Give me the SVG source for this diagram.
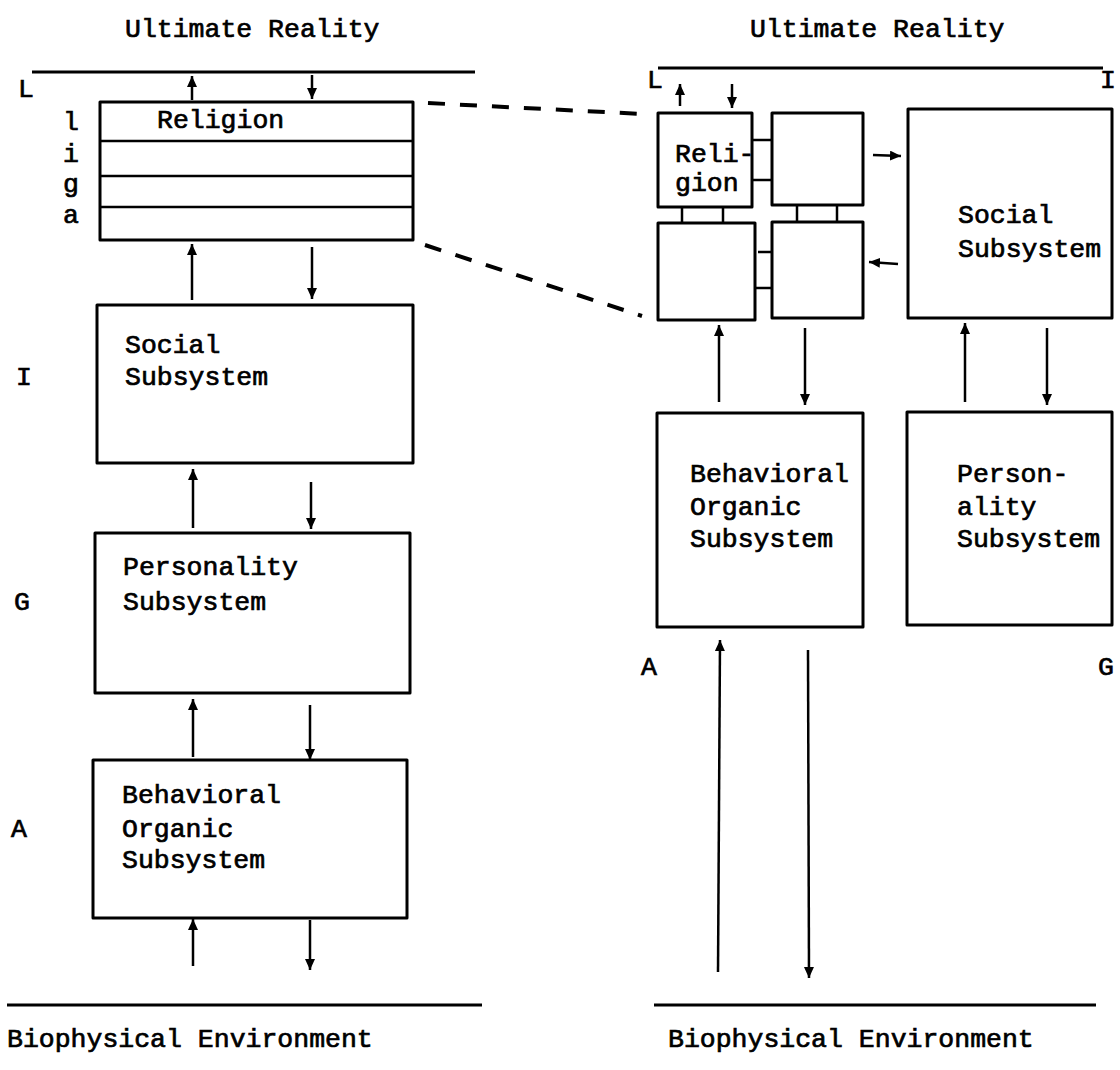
<svg xmlns="http://www.w3.org/2000/svg" width="1120" height="1070" viewBox="0 0 1120 1070">
  <style>
    .t { font-family: "Liberation Mono", "Courier New", monospace; font-size: 26.5px; fill: #000; stroke: #000; stroke-width: 0.7px; }
    .box { fill: none; stroke: #000; stroke-width: 3; stroke-linejoin: round; }
    .rule { fill: none; stroke: #000; stroke-width: 3; }
    .ln { fill: none; stroke: #000; stroke-width: 2.5; }
    .arr { fill: none; stroke: #000; stroke-width: 2.5; marker-end: url(#head); }
    .dash { fill: none; stroke: #000; stroke-width: 4; stroke-dasharray: 17 15; }
  </style>
  <defs>
    <marker id="head" markerUnits="userSpaceOnUse" markerWidth="12" markerHeight="11" refX="11" refY="5" orient="auto">
      <path d="M0,0 L11,5 L0,10 z" fill="#000"/>
    </marker>
  </defs>
  <rect width="1120" height="1070" fill="#fff"/>

  <!-- headings and boundary rules -->
  <g id="left-top">
    <text class="t" x="125" y="37">Ultimate Reality</text>
    <line class="rule" x1="32" y1="72" x2="475" y2="72"/>
  </g>
  <g id="left-bottom">
    <line class="rule" x1="7" y1="1005" x2="482" y2="1005"/>
    <text class="t" x="7" y="1047">Biophysical Environment</text>
  </g>
  <g id="right-top">
    <text class="t" x="750" y="37">Ultimate Reality</text>
    <line class="rule" x1="658" y1="68" x2="1103" y2="68"/>
  </g>
  <g id="right-bottom">
    <line class="rule" x1="654" y1="1005" x2="1096" y2="1005"/>
    <text class="t" x="668" y="1047">Biophysical Environment</text>
  </g>

  <!-- function letters, left column -->
  <g id="left-letters">
    <text class="t" x="18" y="97">L</text>
    <text class="t" x="63" y="130">l</text>
    <text class="t" x="63" y="162">i</text>
    <text class="t" x="63" y="192">g</text>
    <text class="t" x="63" y="223">a</text>
    <text class="t" x="16" y="385">I</text>
    <text class="t" x="14" y="610">G</text>
    <text class="t" x="11" y="837">A</text>
  </g>

  <!-- function letters, right column -->
  <g id="right-letters">
    <text class="t" x="647" y="88">L</text>
    <text class="t" x="1100" y="88">I</text>
    <text class="t" x="641" y="675">A</text>
    <text class="t" x="1098" y="675">G</text>
  </g>

  <!-- left column: stacked subsystems -->
  <g id="religion-stack">
    <rect class="box" x="100" y="102" width="313" height="138"/>
    <line class="ln" x1="100" y1="141" x2="413" y2="141"/>
    <line class="ln" x1="100" y1="176" x2="413" y2="176"/>
    <line class="ln" x1="100" y1="207" x2="413" y2="207"/>
    <text class="t" x="157" y="128">Religion</text>
  </g>
  <g id="social-left">
    <rect class="box" x="97" y="305" width="316" height="158"/>
    <text class="t" x="125" y="353">Social</text>
    <text class="t" x="125" y="385">Subsystem</text>
  </g>
  <g id="personality-left">
    <rect class="box" x="95" y="533" width="315" height="160"/>
    <text class="t" x="123" y="575">Personality</text>
    <text class="t" x="123" y="610">Subsystem</text>
  </g>
  <g id="behavioral-left">
    <rect class="box" x="93" y="760" width="314" height="158"/>
    <text class="t" x="122" y="803">Behavioral</text>
    <text class="t" x="122" y="837">Organic</text>
    <text class="t" x="122" y="868">Subsystem</text>
  </g>

  <!-- right column: religion cell grid and subsystems -->
  <g id="religion-cell">
    <rect class="box" x="658" y="113" width="94" height="94"/>
    <text class="t" x="675" y="162">Reli-</text>
    <text class="t" x="675" y="191">gion</text>
  </g>
  <g id="cell-top-right">
    <rect class="box" x="772" y="113" width="91" height="92"/>
  </g>
  <g id="cell-bottom-left">
    <rect class="box" x="658" y="223" width="97" height="97"/>
  </g>
  <g id="cell-bottom-right">
    <rect class="box" x="772" y="222" width="91" height="96"/>
  </g>
  <g id="social-right">
    <rect class="box" x="908" y="109" width="204" height="209"/>
    <text class="t" x="958" y="223">Social</text>
    <text class="t" x="958" y="257">Subsystem</text>
  </g>
  <g id="behavioral-right">
    <rect class="box" x="657" y="413" width="206" height="214"/>
    <text class="t" x="690" y="482">Behavioral</text>
    <text class="t" x="690" y="515">Organic</text>
    <text class="t" x="690" y="547">Subsystem</text>
  </g>
  <g id="personality-right">
    <rect class="box" x="907" y="412" width="205" height="213"/>
    <text class="t" x="957" y="482">Person-</text>
    <text class="t" x="957" y="515">ality</text>
    <text class="t" x="957" y="547">Subsystem</text>
  </g>

  <!-- connectors -->
  <g id="connectors">
    <!-- left column exchanges -->
    <line class="arr" x1="192" y1="100" x2="192" y2="76"/>
    <line class="arr" x1="312" y1="75" x2="312" y2="99"/>
    <line class="arr" x1="192" y1="300" x2="192" y2="244"/>
    <line class="arr" x1="312" y1="247" x2="312" y2="299"/>
    <line class="arr" x1="193" y1="528" x2="193" y2="469"/>
    <line class="arr" x1="311" y1="482" x2="311" y2="529"/>
    <line class="arr" x1="193" y1="757" x2="193" y2="699"/>
    <line class="arr" x1="310" y1="705" x2="310" y2="760"/>
    <line class="arr" x1="193" y1="966" x2="193" y2="919"/>
    <line class="arr" x1="310" y1="920" x2="310" y2="970"/>

    <!-- dashed expansion lines -->
    <line class="dash" x1="428" y1="103" x2="642" y2="114"/>
    <line class="dash" x1="425" y1="245" x2="642" y2="316"/>

    <!-- right column exchanges -->
    <line class="arr" x1="680" y1="106" x2="680" y2="84"/>
    <line class="arr" x1="732" y1="84" x2="732" y2="108"/>
    <line class="arr" x1="873" y1="155" x2="901" y2="156"/>
    <line class="arr" x1="898" y1="264" x2="869" y2="262"/>
    <line class="arr" x1="719" y1="402" x2="719" y2="325"/>
    <line class="arr" x1="805" y1="328" x2="805" y2="405"/>
    <line class="arr" x1="965" y1="402" x2="965" y2="323"/>
    <line class="arr" x1="1047" y1="328" x2="1047" y2="405"/>
    <line class="arr" x1="718" y1="972" x2="720" y2="640"/>
    <line class="arr" x1="808" y1="650" x2="809" y2="978"/>

    <!-- ties between religion cells -->
    <line class="ln" x1="752" y1="140" x2="772" y2="140"/>
    <line class="ln" x1="752" y1="180" x2="772" y2="180"/>
    <line class="ln" x1="758" y1="252" x2="772" y2="252"/>
    <line class="ln" x1="755" y1="288" x2="772" y2="288"/>
    <line class="ln" x1="682" y1="207" x2="682" y2="223"/>
    <line class="ln" x1="723" y1="207" x2="723" y2="223"/>
    <line class="ln" x1="797" y1="205" x2="797" y2="222"/>
    <line class="ln" x1="837" y1="205" x2="837" y2="222"/>
  </g>
</svg>
